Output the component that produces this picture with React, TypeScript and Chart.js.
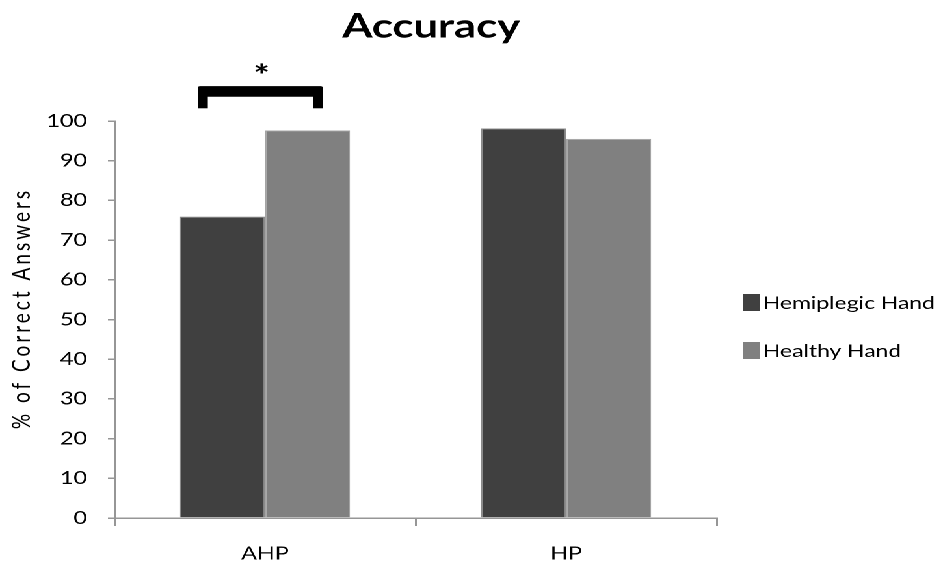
import React, { useEffect, useRef } from "react";
import { Chart, registerables } from "chart.js";

Chart.register(...registerables);

// ---- data ----
const categories = ["AHP", "HP"];
const seriesLabels = ["Hemiplegic Hand", "Healthy Hand"];
const hemiplegicHand = [75.9, 98.1];
const healthyHand = [97.6, 95.5];
const seriesColors = ["#404040", "#808080"];
const seriesBorders = ["#8a8a8a", "#a4a4a4"];
const yMin = 0;
const yMax = 100;
const yStep = 10;
const chartTitle = "Accuracy";
const yAxisTitle = "% of Correct Answers";
const significanceMark = "*";
// significance bracket over AHP, in axis units
const bracketTop = 108.8;
const bracketBar = 106.1;
const bracketLegEnd = 103.2;
const starCenter = 113.2;

// the drawing is laid out narrow and then widened horizontally
const PAGE_W = 943;
const PAGE_H = 566;
const BASE_W = 725;
const STRETCH = PAGE_W / BASE_W;

const FONT = "Lato, 'Open Sans', sans-serif";

const decorations = {
  id: "decorations",
  afterDatasetsDraw(chart: any) {
    const { ctx, chartArea, scales } = chart;
    const ys = scales.y;
    ctx.save();

    // title
    ctx.fillStyle = "#000";
    ctx.font = `bold 33.5px ${FONT}`;
    ctx.textAlign = "center";
    ctx.textBaseline = "alphabetic";
    ctx.fillText(chartTitle, (chartArea.left + chartArea.right) / 2 + 12, 37.5);

    // y axis title
    ctx.save();
    ctx.translate(17, (chartArea.top + chartArea.bottom) / 2 - 11);
    ctx.rotate(-Math.PI / 2);
    ctx.font = `19px ${FONT}`;
    try {
      (ctx as any).letterSpacing = "3px";
    } catch (e) {}
    ctx.textAlign = "center";
    ctx.textBaseline = "middle";
    ctx.fillStyle = "#000";
    ctx.fillText(yAxisTitle, 0, 0);
    try {
      (ctx as any).letterSpacing = "0px";
    } catch (e) {}
    ctx.restore();

    // legend
    const legendX = chartArea.right + 20;
    const legendY0 = (chartArea.top + chartArea.bottom) / 2 - 17;
    ctx.font = `17.6px ${FONT}`;
    ctx.textAlign = "left";
    ctx.textBaseline = "middle";
    chart.data.datasets.forEach((ds: any, i: number) => {
      const cy = legendY0 + i * 48;
      ctx.fillStyle = ds.backgroundColor;
      ctx.fillRect(legendX, cy - 8.5, 13, 17);
      ctx.fillStyle = "#000";
      ctx.fillText(ds.label, legendX + 15.5, cy + 1);
    });

    // significance bracket between the two AHP bars
    const darkBar = chart.getDatasetMeta(0).data[0];
    const lightBar = chart.getDatasetMeta(1).data[0];
    const bw = darkBar.width;
    const left = darkBar.x - bw * 0.29;
    const right = lightBar.x + bw * 0.18;
    const top = ys.getPixelForValue(bracketTop);
    const barBottom = ys.getPixelForValue(bracketBar);
    const legBottom = ys.getPixelForValue(bracketLegEnd);
    const legW = 7.7;
    ctx.fillStyle = "#000";
    ctx.beginPath();
    ctx.roundRect(left, top, right - left, barBottom - top, 2);
    ctx.fill();
    ctx.fillRect(left, top + 2, legW, legBottom - top - 2);
    ctx.fillRect(right - legW, top + 2, legW, legBottom - top - 2);

    // star above the bracket
    ctx.font = `bold 30px ${FONT}`;
    ctx.textAlign = "center";
    ctx.textBaseline = "alphabetic";
    const m = ctx.measureText(significanceMark);
    const asc = m.actualBoundingBoxAscent || 0;
    const desc = m.actualBoundingBoxDescent || 0;
    const sy = ys.getPixelForValue(starCenter);
    ctx.fillText(significanceMark, (left + right) / 2 + 1, sy + (asc - desc) / 2);

    ctx.restore();
  },
};

export default function App() {
  const canvasRef = useRef<HTMLCanvasElement | null>(null);

  useEffect(() => {
    if (!canvasRef.current) return;
    const axisColor = "#969696";
    const chart = new Chart(canvasRef.current, {
      type: "bar",
      data: {
        labels: categories,
        datasets: [
          {
            label: seriesLabels[0],
            data: hemiplegicHand,
            backgroundColor: seriesColors[0],
            borderColor: seriesBorders[0],
            borderWidth: 1,
            categoryPercentage: 0.565,
            barPercentage: 1.0,
          },
          {
            label: seriesLabels[1],
            data: healthyHand,
            backgroundColor: seriesColors[1],
            borderColor: seriesBorders[1],
            borderWidth: 1,
            categoryPercentage: 0.565,
            barPercentage: 1.0,
          },
        ],
      },
      options: {
        animation: false,
        responsive: true,
        maintainAspectRatio: false,
        devicePixelRatio: 2,
        layout: { padding: { top: 121, right: 174, left: 0, bottom: 0 } },
        plugins: {
          legend: { display: false },
          title: { display: false },
          tooltip: { enabled: false },
        },
        scales: {
          x: {
            grid: {
              display: true,
              drawOnChartArea: false,
              drawTicks: true,
              tickLength: 8,
              color: axisColor,
              lineWidth: 1.5,
              offset: true,
            },
            border: { display: true, color: axisColor, width: 1.5 },
            ticks: {
              color: "#000",
              font: { family: FONT, size: 18 },
              padding: 17,
            },
            afterFit: (s: any) => {
              s.height = 48;
            },
          },
          y: {
            min: yMin,
            max: yMax,
            grid: {
              display: true,
              drawOnChartArea: false,
              drawTicks: true,
              tickLength: 5,
              color: axisColor,
              lineWidth: 1.5,
            },
            border: { display: true, color: axisColor, width: 1.5 },
            ticks: {
              stepSize: yStep,
              color: "#000",
              font: { family: FONT, size: 18 },
              padding: 16,
            },
            afterFit: (s: any) => {
              s.width = 88;
            },
          },
        },
      },
      plugins: [decorations],
    });
    return () => chart.destroy();
  }, []);

  return (
    <div
      style={{
        position: "absolute",
        left: 0,
        top: 0,
        width: BASE_W,
        height: PAGE_H,
        transform: `scaleX(${STRETCH})`,
        transformOrigin: "0 0",
        background: "#fff",
      }}
    >
      <canvas ref={canvasRef} />
    </div>
  );
}
